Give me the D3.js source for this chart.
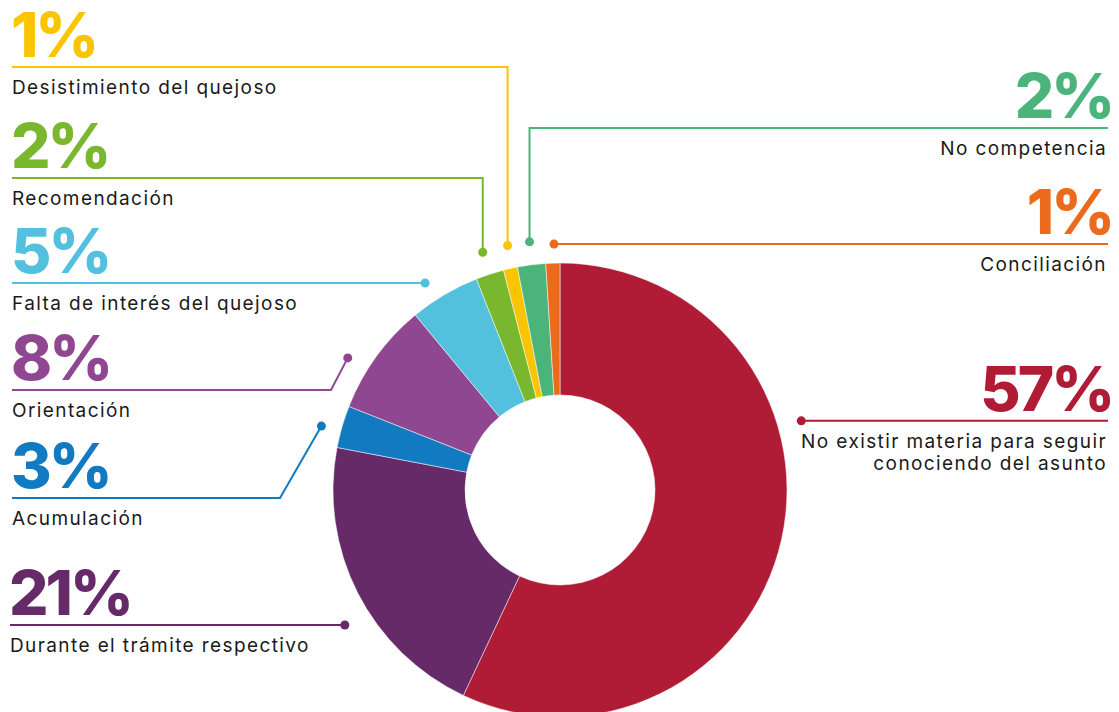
<!DOCTYPE html>
<html>
<head>
<meta charset="utf-8">
<script src="https://cdn.jsdelivr.net/npm/d3@7"></script>
<style>
  html, body { margin: 0; padding: 0; background: #fff; }
  svg { display: block; }
</style>
</head>
<body>
<div id="chart"></div>
<script>
// datos (orden horario desde las 12)
const categories = [
  "No existir materia para seguir conociendo del asunto",
  "Durante el trámite respectivo",
  "Acumulación",
  "Orientación",
  "Falta de interés del quejoso",
  "Recomendación",
  "Desistimiento del quejoso",
  "No competencia",
  "Conciliación",
]
const values = [57, 21, 3, 8, 5, 2, 1, 2, 1]
const colors = ["#b01c35", "#662a68", "#127ac0", "#8f4792", "#53c0de", "#78b72e", "#f9c500", "#4ab47b", "#ec6a1b"]

// etiquetas partidas en líneas
const labelLines = [
  ["No existir materia para seguir", "conociendo del asunto"],
  ["Durante el trámite respectivo"],
  ["Acumulación"],
  ["Orientación"],
  ["Falta de interés del quejoso"],
  ["Recomendación"],
  ["Desistimiento del quejoso"],
  ["No competencia"],
  ["Conciliación"],
]

// posición de cada llamada: lado, altura de la línea, ángulo / radio del punto, codo
const callouts = [
  { side: "right", lineY: 421, angle: 74,    r: 251, elbow: "none" },
  { side: "left",  lineY: 625, angle: 237.9, r: 254, elbow: "none", x0: 10 },
  { side: "left",  lineY: 498, angle: 285,   r: 247, elbow: 280 },
  { side: "left",  lineY: 390, angle: 301.9, r: 250, elbow: 331 },
  { side: "left",  lineY: 283, angle: 326.9, r: 247, elbow: "none" },
  { side: "left",  lineY: 178, angle: 342,   r: 250, elbow: "vertical" },
  { side: "left",  lineY: 67,  angle: 347.9, r: 250, elbow: "vertical" },
  { side: "right", lineY: 128, angle: 353,   r: 250, elbow: "vertical" },
  { side: "right", lineY: 244, angle: 358.6, r: 246, elbow: "none" },
]

const width = 1119
const height = 712
const cx = 560
const cy = 490
const outerR = 227
const innerR = 95
const leftX = 12
const rightX = 1108

const svg = d3.select("#chart")
  .append("svg")
  .attr("width", width)
  .attr("height", height)

const pie = d3.pie().sort(null).value((d) => d)
const arcs = pie(values)
const arc = d3.arc().innerRadius(innerR).outerRadius(outerR)

const g = svg.append("g").attr("transform", `translate(${cx},${cy})`)

g.selectAll("path")
  .data(arcs)
  .enter()
  .append("path")
  .attr("d", arc)
  .attr("fill", (d, i) => colors[i])
  .attr("stroke", "#fff")
  .attr("stroke-width", 0.5)

const rad = Math.PI / 180
const pctFormat = (v) => v + "%"

callouts.forEach((c, i) => {
  const col = colors[i]
  const dx = cx + c.r * Math.sin(c.angle * rad)
  const dy = cy - c.r * Math.cos(c.angle * rad)
  const y = c.elbow === "none" ? dy : c.lineY
  const xStart = c.side === "left" ? (c.x0 || leftX) : rightX

  let pts
  if (c.elbow === "none") {
    pts = [[xStart, y], [dx, y]]
  } else if (c.elbow === "vertical") {
    pts = [[xStart, y], [dx, y], [dx, dy]]
  } else {
    pts = [[xStart, y], [c.elbow, y], [dx, dy]]
  }

  svg.append("path")
    .attr("d", d3.line()(pts))
    .attr("fill", "none")
    .attr("stroke", col)
    .attr("stroke-width", 2)

  svg.append("circle")
    .attr("cx", dx)
    .attr("cy", dy)
    .attr("r", 4.5)
    .attr("fill", col)

  const anchor = c.side === "left" ? "start" : "end"
  const tx = c.side === "left" ? xStart : rightX - 1

  svg.append("text")
    .attr("x", c.side === "left" ? xStart - 1 : rightX + 4)
    .attr("y", c.lineY - 10)
    .attr("text-anchor", anchor)
    .attr("font-family", "Inter, 'Noto Sans', sans-serif")
    .attr("font-weight", 800)
    .attr("font-size", "62px")
    .attr("letter-spacing", "-3px")
    .attr("fill", col)
    .text(pctFormat(values[i]))

  const lbl = svg.append("text")
    .attr("text-anchor", anchor)
    .attr("font-family", "Inter, 'Noto Sans', sans-serif")
    .attr("font-size", "19px")
    .attr("letter-spacing", "1.4px")
    .attr("fill", "#1a1a1a")
  labelLines[i].forEach((ln, k) => {
    lbl.append("tspan")
      .attr("x", tx)
      .attr("y", c.lineY + 27 + k * 22)
      .text(ln)
  })
})
</script>
</body>
</html>
